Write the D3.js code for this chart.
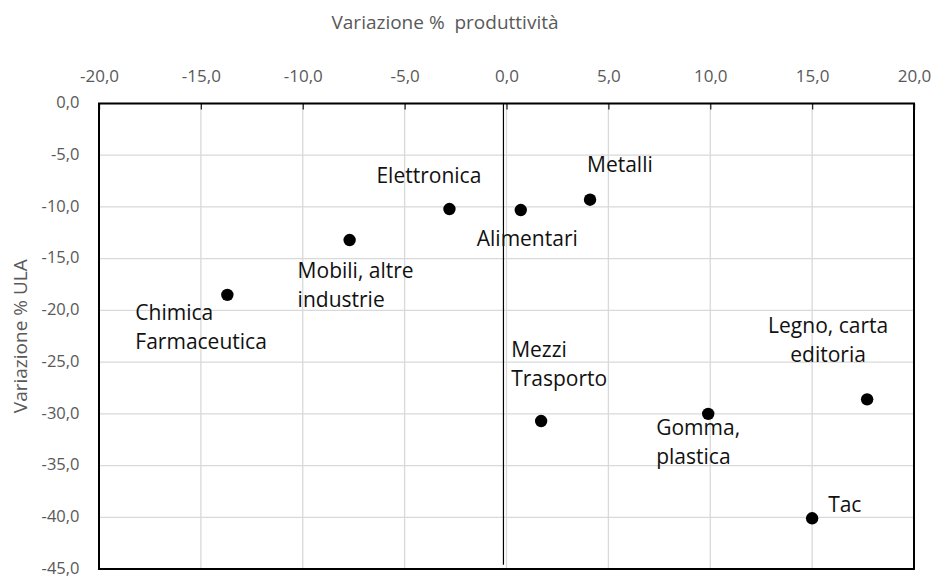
<!DOCTYPE html>
<html>
<head>
<meta charset="utf-8">
<script src="https://cdn.jsdelivr.net/npm/d3@7"></script>
<style>
  html, body { margin: 0; padding: 0; background: #fff; }
  svg { display: block; font-family: "Open Sans", sans-serif; }
  .title { white-space: pre; }
</style>
</head>
<body>
<svg id="chart" width="934" height="578"></svg>
<script>
// Settori: variazione % della produttività (x) e delle ULA (y)
const sectors = [
  ["Chimica", "Farmaceutica"],
  ["Mobili, altre", "industrie"],
  ["Elettronica"],
  ["Alimentari"],
  ["Metalli"],
  ["Mezzi", "Trasporto"],
  ["Gomma,", "plastica"],
  ["Legno, carta", "editoria"],
  ["Tac"]
];
const productivityChange = [-13.7, -7.7, -2.8, 0.7, 4.1, 1.7, 9.9, 17.7, 15.0];
const ulaChange = [-18.5, -13.2, -10.2, -10.3, -9.3, -30.7, -30.0, -28.6, -40.1];

const xTicks = [-20, -15, -10, -5, 0, 5, 10, 15, 20];
const yTicks = [0, -5, -10, -15, -20, -25, -30, -35, -40, -45];

// Vertical reference rule near zero productivity change
const ruleX = -0.15;
const ruleY = [0, -44.6];

const xTitle = "Variazione %  produttività";
const yTitle = "Variazione % ULA";

// Label placement around each point (pixel offsets from the marker)
const labelLayout = [
  { dx: -92, dy: 25, anchor: "start" },
  { dx: -52, dy: 38, anchor: "start" },
  { dx: -73, dy: -26, anchor: "start" },
  { dx: -44, dy: 36, anchor: "start" },
  { dx: -3, dy: -28, anchor: "start" },
  { dx: -30, dy: -64, anchor: "start" },
  { dx: -52, dy: 21, anchor: "start" },
  { dx: -39, dy: -66, anchor: "middle" },
  { dx: 16, dy: -6, anchor: "start" }
];

const it = d3.formatLocale({ decimal: ",", thousands: ".", grouping: [3], currency: ["", "€"], minus: "-" });
const fmt = it.format(".1f");

const svg = d3.select("#chart");
const plotLeft = 99, plotRight = 914, plotTop = 103.5, plotBottom = 569;

const x = d3.scaleLinear().domain([-20, 20]).range([plotLeft, plotRight]);
const y = d3.scaleLinear().domain([0, -45]).range([plotTop, plotBottom]);

// Gridlines
const grid = svg.append("g").attr("stroke", "#d9d9d9").attr("stroke-width", 1.3);
grid.selectAll("line.v").data(xTicks).join("line").attr("class", "v")
  .attr("x1", d => x(d)).attr("x2", d => x(d))
  .attr("y1", plotTop).attr("y2", plotBottom);
grid.selectAll("line.h").data(yTicks).join("line").attr("class", "h")
  .attr("x1", plotLeft).attr("x2", plotRight)
  .attr("y1", d => y(d)).attr("y2", d => y(d));

// Top axis: labels above, short ticks pointing inside
const xAxis = svg.append("g")
  .attr("transform", `translate(0,${plotTop})`)
  .call(d3.axisTop(x).tickValues(xTicks).tickFormat(fmt).tickSize(-6).tickPadding(21.5));
xAxis.select(".domain").remove();
xAxis.selectAll(".tick line").attr("stroke", "#262626").attr("stroke-width", 1.3);
xAxis.selectAll(".tick text").attr("fill", "#595959").attr("font-size", 17)
  .attr("font-family", "'Open Sans', sans-serif");

// Left axis labels
const yAxis = svg.append("g")
  .attr("transform", `translate(${plotLeft},0)`)
  .call(d3.axisLeft(y).tickValues(yTicks).tickFormat(fmt).tickSize(0).tickPadding(19.5));
yAxis.select(".domain").remove();
yAxis.selectAll(".tick text").attr("fill", "#595959").attr("font-size", 16.5)
  .attr("dy", "0.26em")
  .attr("font-family", "'Open Sans', sans-serif");

// Plot frame
svg.append("rect")
  .attr("x", plotLeft).attr("y", plotTop)
  .attr("width", plotRight - plotLeft).attr("height", plotBottom - plotTop)
  .attr("fill", "none").attr("stroke", "#000").attr("stroke-width", 2);

// Reference rule
svg.append("line")
  .attr("x1", x(ruleX)).attr("x2", x(ruleX))
  .attr("y1", y(ruleY[0])).attr("y2", y(ruleY[1]))
  .attr("stroke", "#000").attr("stroke-width", 1.2);

// Points
const points = productivityChange.map((v, i) => ({ px: v, py: ulaChange[i], name: sectors[i], lay: labelLayout[i] }));
svg.append("g").selectAll("circle").data(points).join("circle")
  .attr("cx", d => x(d.px)).attr("cy", d => y(d.py))
  .attr("r", 6.2).attr("fill", "#000");

// Data labels
const labels = svg.append("g").attr("font-size", 21).attr("fill", "#111");
points.forEach(d => {
  const t = labels.append("text")
    .attr("x", x(d.px) + d.lay.dx)
    .attr("y", y(d.py) + d.lay.dy)
    .attr("text-anchor", d.lay.anchor);
  d.name.forEach((line, j) => {
    t.append("tspan")
      .attr("x", x(d.px) + d.lay.dx)
      .attr("dy", j === 0 ? 0 : 29)
      .text(line);
  });
});

// Axis titles
svg.append("text").attr("class", "title")
  .attr("x", 445).attr("y", 29)
  .attr("text-anchor", "middle").attr("font-size", 19).attr("fill", "#595959")
  .text(xTitle);
svg.append("text").attr("class", "title")
  .attr("transform", `translate(27,${(plotTop + plotBottom) / 2}) rotate(-90)`)
  .attr("text-anchor", "middle").attr("font-size", 19).attr("fill", "#595959")
  .text(yTitle);
</script>
</body>
</html>
